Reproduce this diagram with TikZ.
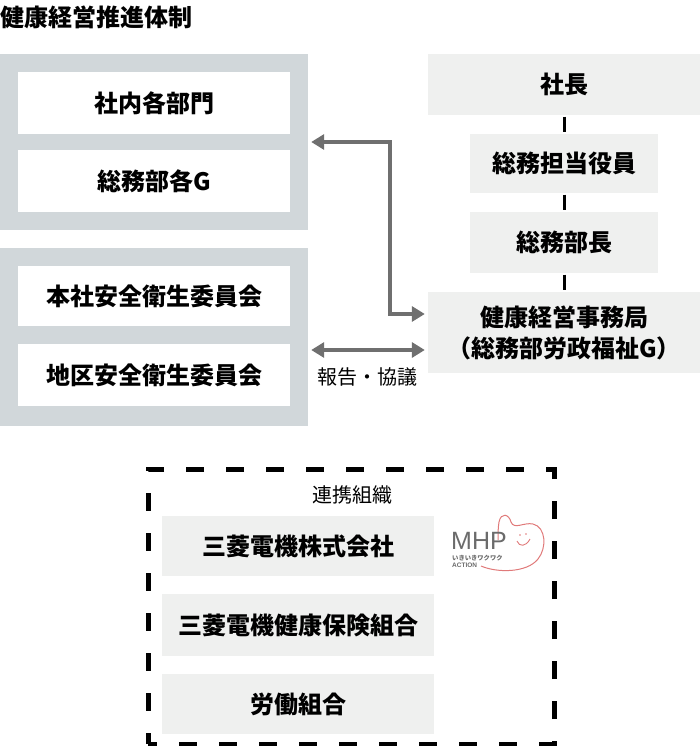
\documentclass[tikz,border=0pt]{standalone}
\usepackage{fontspec}
\setmainfont{Noto Sans CJK JP}
\newfontfamily\logofont{Liberation Sans}
\usetikzlibrary{arrows.meta}
\definecolor{framegray}{HTML}{D1D7DA}
\definecolor{boxgray}{HTML}{EFF0EF}
\definecolor{arrowgray}{HTML}{6F6F6F}
\definecolor{logogray}{HTML}{6B6B6B}
\definecolor{logored}{HTML}{E07A7A}

\begin{document}
\begin{tikzpicture}[x=1pt,y=-1pt,
    frame/.style={fill=framegray,inner sep=0pt,minimum width=308pt},
    whitebox/.style={fill=white,inner sep=0pt,minimum width=272pt,minimum height=62pt,font=\bfseries\fontsize{24}{28}\selectfont},
    graybox/.style={fill=boxgray,inner sep=0pt,minimum height=61pt,font=\bfseries\fontsize{24}{28}\selectfont},
    link/.style={line width=3pt,shorten <=1.5pt,shorten >=1.5pt},
    flow/.style={arrowgray,line width=4.5pt,{Triangle[length=13pt,width=15pt]}-{Triangle[length=13pt,width=15pt]},shorten <=3pt,shorten >=3pt},
    note/.style={font=\fontsize{20}{24}\selectfont,inner sep=0pt}]
    \useasboundingbox (0,0) rectangle (700,746);
    \node[anchor=west,inner sep=0pt,font=\bfseries\fontsize{24}{28}\selectfont] (title) at (0,17) {健康経営推進体制};
    % left ====================================================
    \node[frame,minimum height=176pt] (grp1) at (154,142) {};
    \node[whitebox]                   (dept) at (154,103) {社内各部門};
    \node[whitebox]                   (gag)  at (154,181) {総務部各G};
    \node[frame,minimum height=178pt] (grp2) at (154,337) {};
    \node[whitebox,minimum height=60pt] (hq) at (154,296) {本社安全衛生委員会};
    \node[whitebox]                   (area) at (154,375) {地区安全衛生委員会};
    % right ===================================================
    \node[graybox,minimum width=272pt] (pres) at (564,84.5)  {社長};
    \node[graybox,minimum width=188pt,minimum height=59pt] (exec) at (564,163.5) {総務担当役員};
    \node[graybox,minimum width=188pt] (gm)   at (564,242.5) {総務部長};
    \node[graybox,minimum width=272pt,minimum height=81pt,align=center,font=\bfseries\fontsize{24}{31}\selectfont] (office) at (564,332.5) {健康経営事務局\\（総務部労政福祉G）};
    \draw[link] (pres) -- (exec);
    \draw[link] (exec) -- (gm);
    \draw[link] (gm) -- (office);
    % reporting ===============================================
    \coordinate (bend) at (390,314);
    \draw[flow] (grp1.east) -| (bend) -- (office.west |- bend);
    \coordinate (talk) at (367,350);
    \draw[flow] (grp2.east |- talk) -- (office.west |- talk);
    \node[note] (talklbl) at (367,377) {報告・協議};
    % partners ================================================
    \node[draw,line width=5pt,dash pattern=on 18pt off 22pt,dash phase=9pt,inner sep=0pt,minimum width=406pt,minimum height=275pt] (partners) at (351,606.5) {};
    \node[note] (partlbl) at (352,495) {連携組織};
    \node[graybox,minimum width=272pt,minimum height=60pt] (melco)  at (298,546) {三菱電機株式会社};
    \node[graybox,minimum width=272pt,minimum height=62pt] (health) at (298,625) {三菱電機健康保険組合};
    \node[graybox,minimum width=272pt,minimum height=60pt] (union)  at (298,704) {労働組合};
    % MHP logo
    \draw[logored,line width=1pt] (481,566) .. controls (497,573) and (527,573) .. (538,559) .. controls (547,548) and (546,527) .. (533,524) .. controls (524,522) and (514,530) .. (511,522) .. controls (509,514) and (501,512) .. (499,522) .. controls (498,528) and (498,534) .. (498,540);
    \fill[logored] (520,535) circle (0.9) (526,534) circle (0.9);
    \draw[logored,line width=0.9pt] (517,541) .. controls (519,547) and (526,547) .. (530,539);
    \node[anchor=south west,inner sep=0pt,text=logogray,font=\logofont\fontsize{25}{25}\selectfont] (mhp) at (451,550) {MHP};
    \node[anchor=west,inner sep=0pt,text=logogray,font=\bfseries\fontsize{6.3}{7}\selectfont] (mhpsub) at (452,558.5) {いきいきワクワク};
    \node[anchor=west,inner sep=0pt,text=logogray,font=\logofont\bfseries\fontsize{6.5}{7}\selectfont] (mhpact) at (452,565) {ACTION};
\end{tikzpicture}
\end{document}
